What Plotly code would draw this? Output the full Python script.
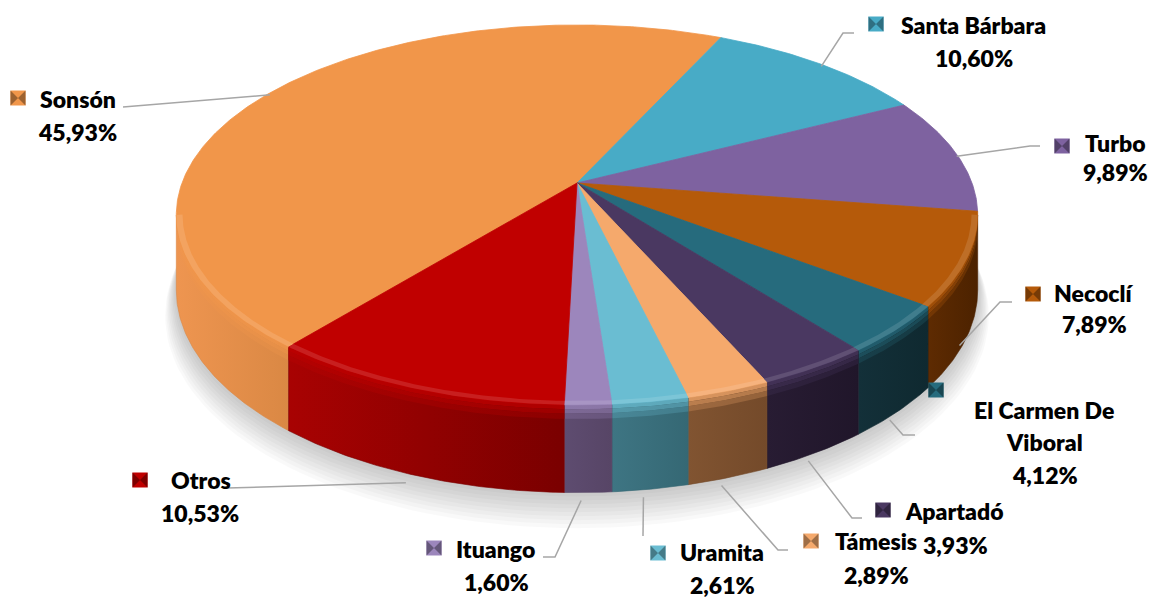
import numpy as np
import plotly.graph_objects as go

# ---------------- data ----------------
labels = ["Sonsón", "Santa Bárbara", "Turbo", "Necoclí", "El Carmen De Viboral",
          "Apartadó", "Támesis", "Uramita", "Ituango", "Otros"]
values = [45.93, 10.60, 9.89, 7.89, 4.12, 3.93, 2.89, 2.61, 1.60, 10.53]
pct_text = ["45,93%", "10,60%", "9,89%", "7,89%", "4,12%", "3,93%", "2,89%", "2,61%", "1,60%", "10,53%"]

# ---------------- styles ----------------
top_colors = ["#F1964A", "#48ABC6", "#7E62A0", "#B55A0A", "#266B7D",
              "#4A3861", "#F5A96C", "#6ABDD2", "#9C86BC", "#C00000"]
wall_light = ["#EE9550", "#2E7F95", "#5A4478", "#5E2B02", "#133039",
              "#281C33", "#815431", "#3E7583", "#5E4C70", "#A80202"]
wall_dark = ["#DA8844", "#266E82", "#4E3A69", "#4C2200", "#0F2930",
             "#20162A", "#744A2A", "#356874", "#574566", "#7A0000"]

# pie geometry (pixel space), perspective tilt
CX, CY = 577, 183
R, K, P, H = 395, 184.6, 0.168, 73
START = 219.45  # angle of first slice (clockwise from 12 o'clock)

# label layout (pixel positions)
name_pos = {"Sonsón": [(78, 99)], "Santa Bárbara": [(973, 25)], "Turbo": [(1115, 143)],
            "Necoclí": [(1093, 293)], "El Carmen De Viboral": [(1044, 410), (1044, 442)],
            "Apartadó": [(954, 511)], "Támesis": [(876, 541)], "Uramita": [(722, 552)],
            "Ituango": [(495, 549)], "Otros": [(201, 480)]}
name_lines = {"El Carmen De Viboral": ["El Carmen De", "Viboral"]}
pct_pos = {"Sonsón": (77, 132), "Santa Bárbara": (974, 58), "Turbo": (1115, 172),
           "Necoclí": (1094, 324), "El Carmen De Viboral": (1045, 475), "Apartadó": (955, 545),
           "Támesis": (876, 575), "Uramita": (722, 585), "Ituango": (496, 582), "Otros": (200, 513)}
key_pos = {"Sonsón": (18, 98), "Santa Bárbara": (876, 24), "Turbo": (1062, 146),
           "Necoclí": (1033, 294), "El Carmen De Viboral": (936, 390), "Apartadó": (883, 510),
           "Támesis": (811, 541), "Uramita": (658, 553), "Ituango": (434, 548), "Otros": (140, 480)}
leader_pts = {"Sonsón": [(123, 107)], "Santa Bárbara": [(843, 33), (854, 33)],
              "Turbo": [(1030, 146), (1040, 146)], "Necoclí": [(1000, 302), (1012, 302)],
              "El Carmen De Viboral": [(903, 435), (915, 435)], "Apartadó": [(852, 518), (862, 518)],
              "Támesis": [(778, 550), (788, 550)], "Uramita": [(643, 536)],
              "Ituango": [(555, 557), (543, 557)], "Otros": [(227, 488)]}

FONT = "Lato"
FSIZE = 23
FWEIGHT = 800


def proj(th, r=1.0, z=0.0):
    t = np.radians(th)
    s = 1.0 / (1.0 + P * r * np.cos(t))
    x = CX + R * r * np.sin(t) * s
    y = CY - K * r * np.cos(t) * s + H * z * s
    return x, y


def hex2rgb(h):
    h = h.lstrip("#")
    return tuple(int(h[i:i + 2], 16) for i in (0, 2, 4))


def blend(c1, c2, t):
    a, b = hex2rgb(c1), hex2rgb(c2)
    return "#%02X%02X%02X" % tuple(int(round(a[i] * (1 - t) + b[i] * t)) for i in range(3))


def arc(a0, a1, r=1.0, z=0.0, step=0.5):
    n = max(3, int(abs(a1 - a0) / step) + 1)
    th = np.linspace(a0, a1, n)
    return proj(th, r, z)


fig = go.Figure()

# soft shadow under the pie
for k in range(10):
    xs, ys = arc(0, 360, 1.0 + k * 0.003, 1.0 + k * 0.035, 2)
    fig.add_trace(go.Scatter(x=xs, y=ys, fill="toself", mode="lines", line=dict(width=0),
                             fillcolor="rgba(0,0,0,0.022)", hoverinfo="skip", showlegend=False))

total = sum(values)
spans = [360.0 * v / total for v in values]
starts = []
a = START
for sp in spans:
    starts.append(a % 360)
    a += sp

VIS0 = np.degrees(np.arccos(-P))
VIS1 = 360 - VIS0

# side walls
for i, lab in enumerate(labels):
    a0, a1 = starts[i], starts[i] + spans[i]
    for off in (0, -360, 360):
        b0 = max(a0 + off, VIS0)
        b1 = min(a1 + off, VIS1)
        if b1 <= b0:
            continue
        xt, yt = arc(b0, b1, 1.0, 0.0)
        xb, yb = arc(b1, b0, 1.0, 1.0)
        xs = np.concatenate([xt, xb, xt[:1]])
        ys = np.concatenate([yt, yb, yt[:1]])
        fig.add_trace(go.Scatter(
            x=xs, y=ys, fill="toself", mode="lines",
            line=dict(width=0.6, color=wall_dark[i]), fillcolor=wall_dark[i],
            fillgradient=dict(type="horizontal", colorscale=[[0, wall_light[i]], [1, wall_dark[i]]]),
            hoverinfo="skip", showlegend=False))
        # bevel bands at top of the wall
        bands = [(0.0, 0.05, 0.25), (0.05, 0.10, 0.5), (0.10, 0.16, 0.75)]
        for z0, z1, t in bands:
            xt, yt = arc(b0, b1, 1.0, z0)
            xb, yb = arc(b1, b0, 1.0, z1)
            cl = blend(top_colors[i], wall_light[i], t)
            cd = blend(top_colors[i], wall_dark[i], t)
            fig.add_trace(go.Scatter(
                x=np.concatenate([xt, xb, xt[:1]]), y=np.concatenate([yt, yb, yt[:1]]),
                fill="toself", mode="lines", line=dict(width=0), fillcolor=cd,
                fillgradient=dict(type="horizontal", colorscale=[[0, cl], [1, cd]]),
                hoverinfo="skip", showlegend=False))

# top faces
for i, lab in enumerate(labels):
    a0, a1 = starts[i], starts[i] + spans[i]
    xa, ya = arc(a0, a1, 1.0, 0.0)
    xs = np.concatenate([[CX], xa, [CX]])
    ys = np.concatenate([[CY], ya, [CY]])
    fig.add_trace(go.Scatter(x=xs, y=ys, fill="toself", mode="lines",
                             line=dict(width=0.8, color=top_colors[i]), fillcolor=top_colors[i],
                             hoverinfo="skip", showlegend=False))

# subtle rim highlight on the front of the top face
for i, lab in enumerate(labels):
    a0, a1 = starts[i], starts[i] + spans[i]
    for off in (0, -360, 360):
        b0 = max(a0 + off, VIS0)
        b1 = min(a1 + off, VIS1)
        if b1 <= b0:
            continue
        xo, yo = arc(b0, b1, 1.0, 0.0)
        xi, yi = arc(b1, b0, 0.985, 0.0)
        fig.add_trace(go.Scatter(
            x=np.concatenate([xo, xi, xo[:1]]), y=np.concatenate([yo, yi, yo[:1]]),
            fill="toself", mode="lines", line=dict(width=0),
            fillcolor=blend(top_colors[i], "#FFFFFF", 0.12), hoverinfo="skip", showlegend=False))

# leader lines
for i, lab in enumerate(labels):
    mid = (starts[i] + spans[i] / 2) % 360
    if VIS0 <= mid <= VIS1:
        x0, y0 = proj(mid, 1.0, 1.0)
        x0, y0 = x0 - 7, y0 + 8
    else:
        x0, y0 = proj(mid, 1.0, 0.0)
        y0 = y0 + 2
    pts = [(x0, y0)] + leader_pts[lab]
    fig.add_trace(go.Scatter(x=[p[0] for p in pts], y=[p[1] for p in pts], mode="lines",
                             line=dict(color="#A6A6A6", width=1.5),
                             hoverinfo="skip", showlegend=False))

# legend keys (bevelled squares)
for i, lab in enumerate(labels):
    kx, ky = key_pos[lab]
    fig.add_trace(go.Scatter(x=[kx], y=[ky], mode="markers",
                             marker=dict(symbol="square", size=15, color=top_colors[i],
                                         line=dict(width=0)),
                             hoverinfo="skip", showlegend=False))
    fig.add_trace(go.Scatter(x=[kx], y=[ky], mode="markers",
                             marker=dict(symbol="bowtie", size=15,
                                         color=blend(top_colors[i], "#000000", 0.35),
                                         line=dict(width=0)),
                             hoverinfo="skip", showlegend=False))

annotations = []
for i, lab in enumerate(labels):
    lines = name_lines.get(lab, [lab])
    for txt, (x, y) in zip(lines, name_pos[lab]):
        annotations.append(dict(x=x, y=y, text=txt, showarrow=False,
                                xanchor="center", yanchor="middle", borderpad=0,
                                font=dict(family=FONT, size=FSIZE, color="#000000", weight=FWEIGHT)))
    px, py = pct_pos[lab]
    annotations.append(dict(x=px, y=py, text=pct_text[i], showarrow=False,
                            xanchor="center", yanchor="middle", borderpad=0,
                            font=dict(family=FONT, size=FSIZE, color="#000000", weight=FWEIGHT)))

fig.update_layout(
    width=1154, height=599,
    margin=dict(l=0, r=0, t=0, b=0),
    paper_bgcolor="white", plot_bgcolor="white",
    xaxis=dict(range=[0, 1154], visible=False, fixedrange=True),
    yaxis=dict(range=[599, 0], visible=False, fixedrange=True),
    annotations=annotations,
    showlegend=False,
)

fig.write_html("out.html", config={"displayModeBar": False},
               post_script="document.body.style.margin='0';")
